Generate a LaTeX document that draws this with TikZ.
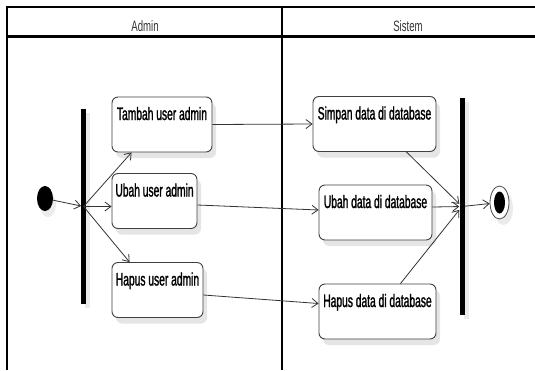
\documentclass[tikz,border=0pt]{standalone}
\usepackage{fontspec}
\setmainfont{Liberation Sans}
\newfontfamily\actfont[FakeStretch=0.57, FakeBold=1.3]{Liberation Sans}
\newfontfamily\lanefont[FakeStretch=0.64]{Liberation Sans}
\usetikzlibrary{shapes,arrows.meta,shadows}
\tikzstyle{act} = [rectangle, draw=black!75, line width=0.9pt, rounded corners=6pt, fill=white, font=\actfont\fontsize{18}{20}\selectfont, inner xsep=3pt, inner ysep=10pt, text height=13pt, text depth=22pt, drop shadow={shadow xshift=4pt, shadow yshift=-6pt, fill=black!10, opacity=1}]
\tikzstyle{bar} = [rectangle, fill=black, inner sep=0pt, minimum width=4.5pt, drop shadow={shadow xshift=4pt, shadow yshift=-4pt, fill=black!8, opacity=1}]
\tikzstyle{line} = [draw, black!80, line width=0.8pt, -{Straight Barb[length=6pt,width=9pt]}]
\tikzstyle{lane} = [font=\lanefont\fontsize{15}{17}\selectfont, text=black!80, anchor=base]

\begin{document}
\begin{tikzpicture}[x=1pt, y=-1pt]
  \useasboundingbox (0,0) rectangle (535,370);
  % Swimlanes
  \draw [line width=2.4pt] (7,7) -- (535,7);
  \draw [line width=2.4pt] (7,36.5) -- (535,36.5);
  \draw [line width=1.3pt] (7,6) -- (7,370);
  \draw [line width=1.3pt] (282,6) -- (282,370);
  \node [lane] (admin) at (145,31) {Admin};
  \node [lane] (sistem) at (408,31) {Sistem};
  % Place nodes
  \node [ellipse, fill=black, inner sep=0pt, minimum width=16pt, minimum height=25pt, drop shadow={shadow xshift=3pt, shadow yshift=-6pt, fill=black!8, opacity=1}] (start) at (45,198.5) {};
  \node [bar, minimum height=195pt] (fork) at (83.5,206.5) {};
  \node [act, minimum width=100pt] (tambah) at (162,124.5) {Tambah user admin};
  \node [act, minimum width=85pt] (ubahuser) at (154.5,201) {Ubah user admin};
  \node [act, minimum width=91pt] (hapususer) at (157.5,290) {Hapus user admin};
  \node [act, minimum width=123pt] (simpan) at (374.5,124) {Simpan data di database};
  \node [act, minimum width=113pt] (ubahdata) at (375.5,212.5) {Ubah data di database};
  \node [act, minimum width=117pt] (hapusdata) at (377.5,311.5) {Hapus data di database};
  \node [bar, minimum height=217pt, minimum width=5pt] (join) at (462,206.5) {};
  \node [ellipse, draw=black!70, line width=0.8pt, fill=white, inner sep=0pt, minimum width=19pt, minimum height=33pt, drop shadow={shadow xshift=4pt, shadow yshift=-6pt, fill=black!8, opacity=1}] (final) at (499.5,202.5) {};
  \node [ellipse, fill=black, inner sep=0pt, minimum width=11pt, minimum height=22pt] (finaldot) at (final.center) {};
  % Draw edges
  \path [line] (start) -- (fork);
  \path [line] (fork.center) -- ([xshift=20pt]tambah.south west);
  \path [line] (fork.center) -- (fork.center -| ubahuser.west);
  \path [line] (fork.center) -- ([xshift=18pt]hapususer.north west);
  \path [line] (tambah.east) -- (simpan.west);
  \path [line] ([yshift=-4pt]ubahuser.east) -- ([yshift=2.5pt]ubahdata.west);
  \path [line] ([yshift=-5pt]hapususer.east) -- ([yshift=8pt]hapusdata.west);
  \path [line] ([xshift=-30pt]simpan.south east) -- (join);
  \path [line] ([yshift=5.5pt]ubahdata.east) -- (join);
  \path [line] ([xshift=-36pt]hapusdata.north east) -- (join);
  \path [line] (join) -- (final);
\end{tikzpicture}
\end{document}
